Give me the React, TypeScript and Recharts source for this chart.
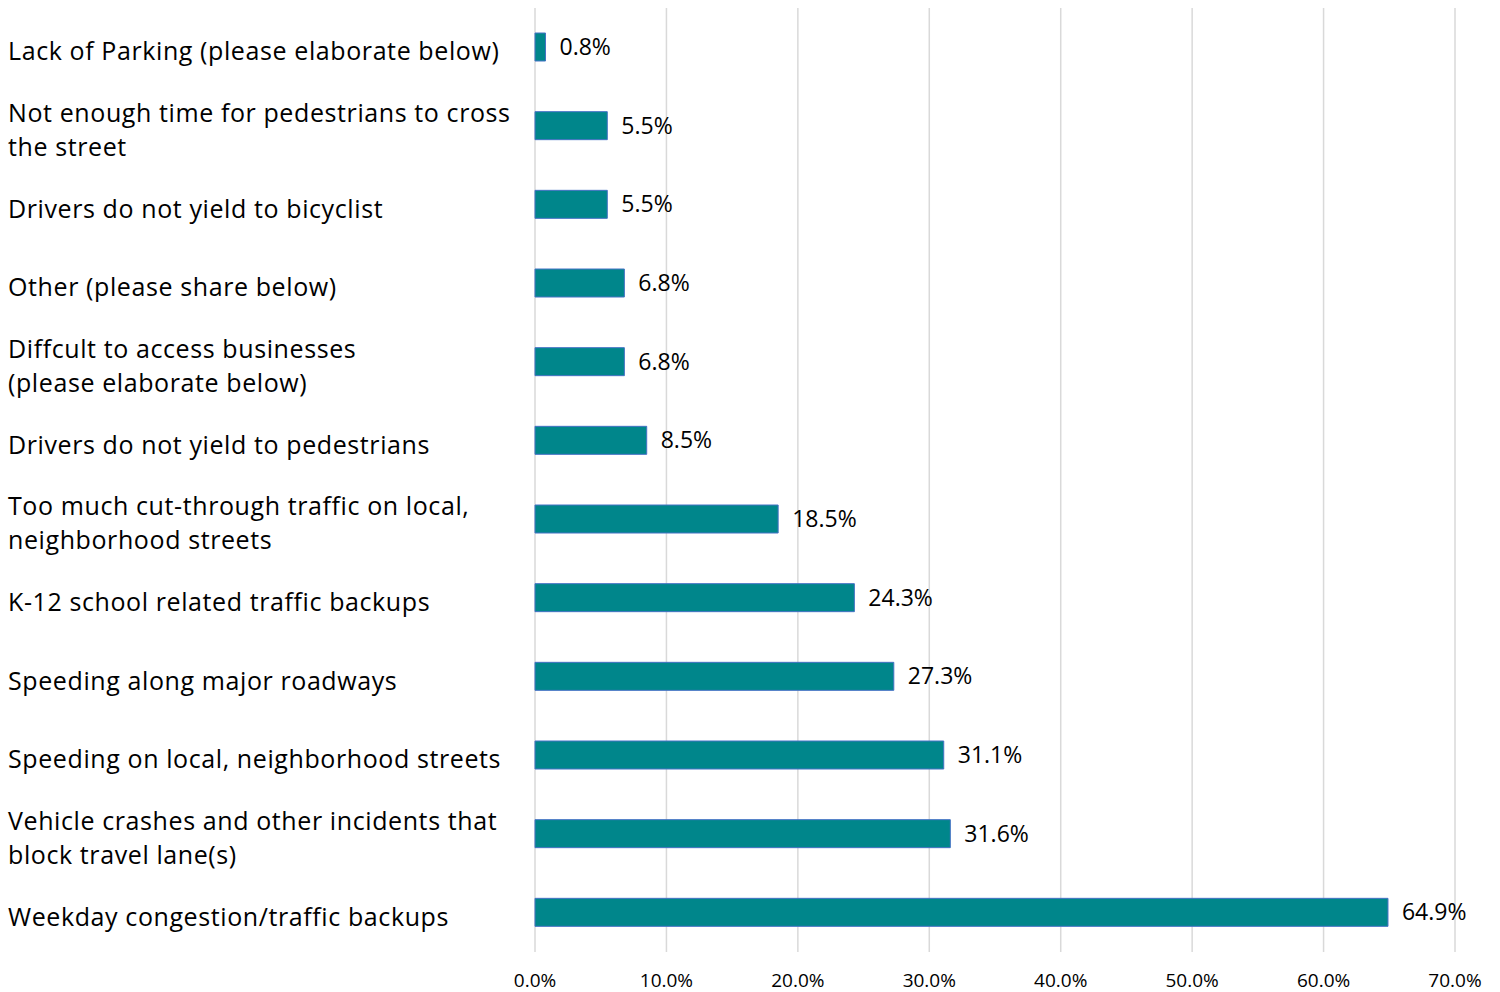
import { BarChart, Bar, XAxis, YAxis, CartesianGrid, LabelList } from "recharts";

const categories = [
  "Lack of Parking (please elaborate below)",
  "Not enough time for pedestrians to cross\nthe street",
  "Drivers do not yield to bicyclist",
  "Other (please share below)",
  "Diffcult to access businesses\n(please elaborate below)",
  "Drivers do not yield to pedestrians",
  "Too much cut-through traffic on local,\nneighborhood streets",
  "K-12 school related traffic backups",
  "Speeding along major roadways",
  "Speeding on local, neighborhood streets",
  "Vehicle crashes and other incidents that\nblock travel lane(s)",
  "Weekday congestion/traffic backups",
];

const shares = [0.8, 5.5, 5.5, 6.8, 6.8, 8.5, 18.5, 24.3, 27.3, 31.1, 31.6, 64.9];

const xTicks = [0, 10, 20, 30, 40, 50, 60, 70];

const data = categories.map((name, i) => ({ name, value: shares[i] }));

const pct = (v: number) => `${Number(v).toFixed(1)}%`;

function CategoryTick(props: any) {
  const { y, payload } = props;
  const lines = String(payload.value).split("\n");
  const lineH = 34;
  const start = y + 3 - ((lines.length - 1) * lineH) / 2;
  return (
    <text
      x={8}
      y={start}
      textAnchor="start"
      dominantBaseline="central"
      fill="#000"
      fontFamily="'Open Sans', sans-serif"
      fontSize={25}
      letterSpacing={0.6}
    >
      {lines.map((l, i) => (
        <tspan key={i} x={8} y={start + i * lineH}>
          {l}
        </tspan>
      ))}
    </text>
  );
}

export default function App() {
  return (
    <div style={{ position: "absolute", left: 0, top: 0, background: "#fff" }}>
      <BarChart
        width={1500}
        height={992}
        data={data}
        layout="vertical"
        margin={{ top: 8, right: 45, bottom: 10, left: 8 }}
      >
        <CartesianGrid horizontal={false} stroke="#d9d9d9" strokeWidth={1.5} />
        <XAxis
          type="number"
          domain={[0, 70]}
          ticks={xTicks}
          tickFormatter={pct}
          axisLine={false}
          tickLine={false}
          tickSize={0}
          tickMargin={22}
          height={30}
          tick={{ fill: "#000", fontSize: 19, fontFamily: "'Open Sans', sans-serif" }}
        />
        <YAxis
          type="category"
          dataKey="name"
          width={527}
          axisLine={false}
          tickLine={false}
          tick={<CategoryTick />}
          interval={0}
        />
        <Bar
          dataKey="value"
          fill="#00868b"
          stroke="#4472c4"
          strokeWidth={1}
          barSize={28}
          isAnimationActive={false}
        >
          <LabelList
            dataKey="value"
            position="right"
            offset={14}
            formatter={(v: any) => pct(v)}
            fill="#000"
            fontSize={23}
            fontFamily="'Open Sans', sans-serif"
          />
        </Bar>
      </BarChart>
    </div>
  );
}
